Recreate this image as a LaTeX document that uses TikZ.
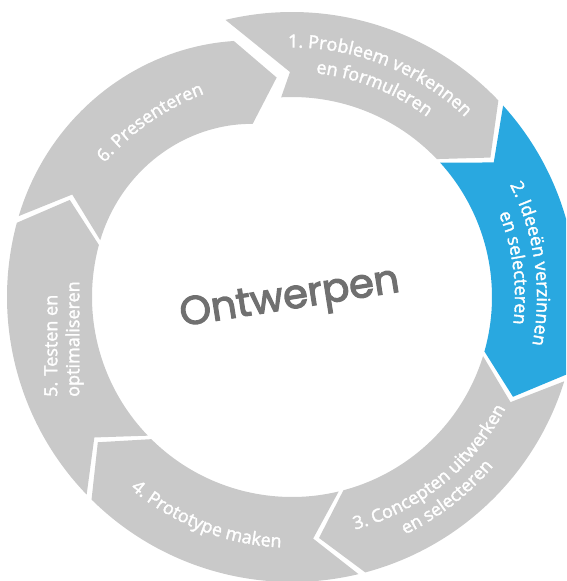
\documentclass[tikz,border=0pt]{standalone}
\usepackage{fontspec}
\setmainfont{Open Sans}[FakeBold=2]
\newfontfamily\handfont{Poppins}[FakeBold=3]
\usetikzlibrary{decorations.text}
\definecolor{seggray}{RGB}{201,201,201}
\definecolor{segblue}{RGB}{41,168,224}
\definecolor{handgray}{RGB}{112,112,112}
\newcommand\labfont{\fontsize{18}{22}\selectfont}
\begin{document}
\begin{tikzpicture}[x=1pt,y=1pt,
  seg/.style={fill=seggray},
  segb/.style={fill=segblue},
  lbl/.style={decorate, decoration={text along path, text align=center, text color=white, text={#1}}}
]
\useasboundingbox (-292,-284) rectangle (274,297);
\clip (-292,-284) rectangle (274,297);

% segment 1
\path[seg] (103.5:285) arc[start angle=103.5, end angle=43.6, radius=285pt]
  -- (35.1:242.5) -- (43.6:200) arc[start angle=43.6, end angle=93.1, radius=200pt]
  -- (-2,225) -- cycle;
% segment 2
\path[segb] (42.2:285) arc[start angle=42.2, end angle=-15.8, radius=285pt]
  -- (-24.3:242.5) -- (-15.8:200) arc[start angle=-15.8, end angle=42.2, radius=200pt]
  -- (33.7:242.5) -- cycle;
% segment 3
\path[seg] (-17.2:285) arc[start angle=-17.2, end angle=-75.1, radius=285pt]
  -- (-83.6:242.5) -- (-75.1:200) arc[start angle=-75.1, end angle=-17.2, radius=200pt]
  -- (-25.7:242.5) -- cycle;
% segment 4
\path[seg] (-76.5:285) arc[start angle=-76.5, end angle=-134.7, radius=285pt]
  -- (-143.2:242.5) -- (-134.7:200) arc[start angle=-134.7, end angle=-76.5, radius=200pt]
  -- (-85:242.5) -- cycle;
% segment 5
\path[seg] (-136.1:285) arc[start angle=-136.1, end angle=-195.1, radius=285pt]
  -- (-203.6:242.5) -- (-195.1:200) arc[start angle=-195.1, end angle=-136.1, radius=200pt]
  -- (-144.6:242.5) -- cycle;
% segment 6 (spiralling slightly inward)
\path[seg] plot[domain=163.5:102.8, samples=40] (\x:{285-0.006*(164-\x)^2})
  -- (94:220)
  -- plot[domain=102.8:163.5, samples=40] (\x:{200-0.006*(164-\x)^2})
  -- (155:242.5) -- cycle;

% labels
\path[lbl={|\labfont|1. Probleem verkennen}] (103.5:249.5) arc[start angle=103.5, end angle=33.5, radius=249.5pt];
\path[lbl={|\labfont|en formuleren}] (103.5:225) arc[start angle=103.5, end angle=33.5, radius=225pt];
\path[lbl={|\labfont|2. Ideeën verzinnen}] (43:245) arc[start angle=43, end angle=-27, radius=245pt];
\path[lbl={|\labfont|en selecteren}] (42.5:223) arc[start angle=42.5, end angle=-27.5, radius=223pt];
\path[lbl={|\labfont|3. Concepten uitwerken}] (-86.2:241) arc[start angle=-86.2, end angle=-16.2, radius=241pt];
\path[lbl={|\labfont|en selecteren}] (-87.3:263) arc[start angle=-87.3, end angle=-17.3, radius=263pt];
\path[lbl={|\labfont|4. Prototype maken}] (-146.3:250.6) arc[start angle=-146.3, end angle=-76.3, radius=250.6pt];
\path[lbl={|\labfont|6. Presenteren}] (-233.2,56.5) arc[start angle=159.8, end angle=89.8, radius=248.5pt];
\node[rotate=90, anchor=west, align=left, text=white, font=\labfont, inner sep=0pt] (t5) at (-228,-100) {5. Testen en\\optimaliseren};

\node[rotate=9, text=handgray, font=\handfont\fontsize{40}{40}\selectfont, inner sep=0pt] (title) at (-2,-3) {Ontwerpen};
\end{tikzpicture}
\end{document}
